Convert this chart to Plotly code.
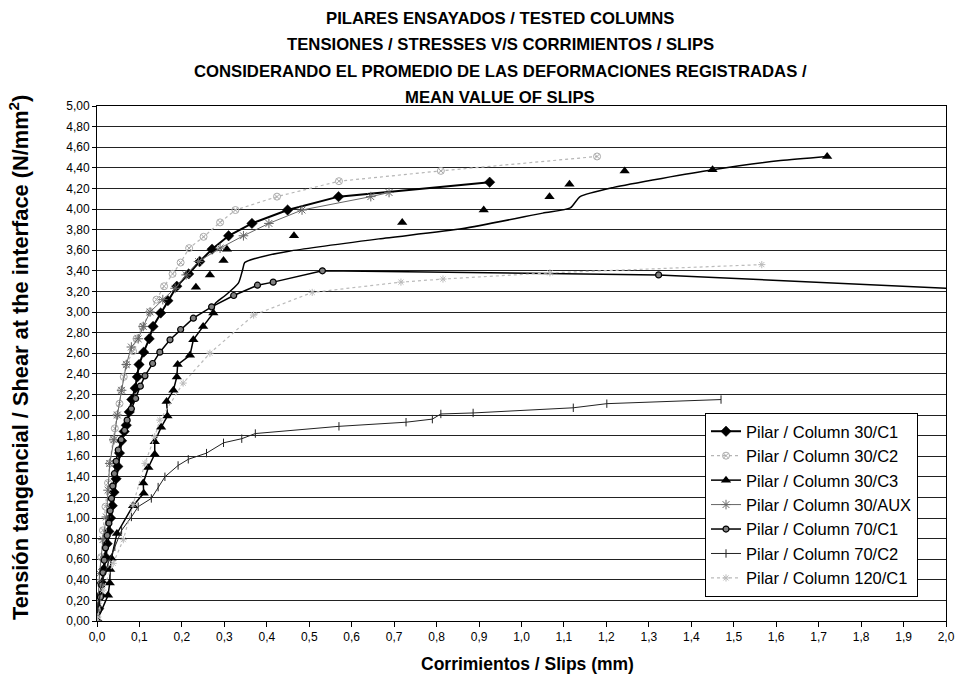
import plotly.graph_objects as go

# ---------------- data ----------------
c1_30_x = [0, 0.004, 0.008, 0.012, 0.016, 0.020, 0.024, 0.028, 0.032, 0.036, 0.040, 0.045, 0.049, 0.053,
           0.058, 0.064, 0.069, 0.076, 0.082, 0.090, 0.095, 0.099, 0.110, 0.123, 0.132, 0.150, 0.167,
           0.188, 0.216, 0.242, 0.271, 0.310, 0.365, 0.449, 0.569, 0.925]
c1_30_y = [0, 0.12, 0.25, 0.37, 0.50, 0.62, 0.75, 0.87, 1.00, 1.12, 1.25, 1.38, 1.50, 1.63,
           1.75, 1.84, 1.90, 2.03, 2.15, 2.26, 2.37, 2.49, 2.61, 2.74, 2.86, 2.99, 3.11,
           3.25, 3.37, 3.49, 3.61, 3.74, 3.86, 3.99, 4.12, 4.26]

c2_30_x = [0, 0.001, 0.005, 0.010, 0.014, 0.020, 0.026, 0.030, 0.038, 0.042, 0.047, 0.053, 0.057, 0.063,
           0.069, 0.085, 0.093, 0.107, 0.124, 0.140, 0.158, 0.178, 0.197, 0.217, 0.251, 0.290, 0.326,
           0.424, 0.570, 0.810, 1.178]
c2_30_y = [0, 0.10, 0.37, 0.62, 0.88, 1.11, 1.34, 1.53, 1.76, 1.87, 2.00, 2.11, 2.24, 2.37,
           2.49, 2.62, 2.74, 2.86, 3.00, 3.12, 3.25, 3.37, 3.48, 3.62, 3.73, 3.87, 3.99,
           4.12, 4.27, 4.37, 4.51]

c3_30_x = [0, 0.026, 0.030, 0.031, 0.034, 0.047, 0.085, 0.110, 0.109, 0.121, 0.136, 0.136, 0.151, 0.166,
           0.164, 0.180, 0.188, 0.190, 0.219, 0.227, 0.250, 0.274]
c3_30_y = [0, 0.25, 0.37, 0.50, 0.61, 0.85, 1.12, 1.24, 1.34, 1.49, 1.62, 1.74, 1.88, 1.99,
           2.13, 2.24, 2.37, 2.49, 2.58, 2.73, 2.86, 2.99]
c3_30_tail_x = [0.274, 0.278, 0.302, 0.333, 0.343, 0.348, 0.373, 0.452, 0.664, 0.862, 1.050, 1.115,
                1.138, 1.217, 1.450, 1.610, 1.720]
c3_30_tail_y = [2.99, 3.08, 3.16, 3.28, 3.41, 3.48, 3.52, 3.59, 3.71, 3.81, 3.96, 4.01,
                4.12, 4.21, 4.38, 4.47, 4.51]
c3_30_pts_x = [0.233, 0.266, 0.298, 0.306, 0.464, 0.719, 0.911, 1.066, 1.113, 1.243, 1.450, 1.720]
c3_30_pts_y = [3.24, 3.36, 3.50, 3.61, 3.74, 3.87, 3.99, 4.12, 4.24, 4.37, 4.38, 4.51]

aux_30_x = [0, 0.002, 0.006, 0.014, 0.022, 0.026, 0.030, 0.040, 0.048, 0.058, 0.069, 0.081, 0.097,
            0.109, 0.125, 0.155, 0.184, 0.210, 0.239, 0.290, 0.345, 0.405, 0.483, 0.645, 0.688]
aux_30_y = [0, 0.14, 0.46, 0.79, 1.01, 1.27, 1.53, 1.76, 2.00, 2.24, 2.49, 2.66, 2.74,
            2.86, 3.00, 3.12, 3.23, 3.36, 3.49, 3.62, 3.74, 3.86, 3.99, 4.12, 4.16]

c1_70_x = [0, 0.004, 0.008, 0.011, 0.014, 0.017, 0.020, 0.024, 0.028, 0.031, 0.034, 0.037, 0.041,
           0.045, 0.050, 0.057, 0.065, 0.071, 0.081, 0.091, 0.102, 0.113, 0.131, 0.148, 0.172,
           0.197, 0.227, 0.270, 0.322, 0.378, 0.415, 0.531, 1.323, 2.050]
c1_70_y = [0, 0.11, 0.23, 0.35, 0.47, 0.59, 0.71, 0.83, 0.95, 1.07, 1.19, 1.31, 1.43,
           1.55, 1.66, 1.76, 1.85, 1.95, 2.06, 2.16, 2.28, 2.38, 2.50, 2.61, 2.73,
           2.83, 2.94, 3.05, 3.16, 3.26, 3.29, 3.40, 3.36, 3.22]

c2_70_x = [0, 0.002, 0.014, 0.026, 0.042, 0.058, 0.081, 0.097, 0.128, 0.144, 0.160, 0.191, 0.215,
           0.258, 0.298, 0.341, 0.373, 0.570, 0.728, 0.790, 0.810, 0.886, 1.122, 1.201, 1.470]
c2_70_y = [0, 0.14, 0.40, 0.56, 0.72, 0.88, 1.01, 1.11, 1.19, 1.30, 1.40, 1.51, 1.57,
           1.63, 1.73, 1.77, 1.82, 1.89, 1.93, 1.96, 2.01, 2.02, 2.07, 2.11, 2.15]

c1_120_x = [0, 0.002, 0.014, 0.038, 0.062, 0.085, 0.113, 0.136, 0.148, 0.203, 0.266, 0.369, 0.507,
            0.716, 0.815, 1.067, 1.566]
c1_120_y = [0, 0.04, 0.30, 0.56, 0.79, 1.13, 1.53, 1.79, 1.95, 2.31, 2.60, 2.97, 3.19,
            3.29, 3.32, 3.38, 3.46]

names = ["Pilar / Column 30/C1", "Pilar / Column 30/C2", "Pilar / Column 30/C3",
         "Pilar / Column 30/AUX", "Pilar / Column 70/C1", "Pilar / Column 70/C2",
         "Pilar / Column 120/C1"]

title_lines = ["PILARES ENSAYADOS / TESTED COLUMNS",
               "TENSIONES / STRESSES V/S CORRIMIENTOS / SLIPS",
               "CONSIDERANDO EL PROMEDIO DE LAS DEFORMACIONES REGISTRADAS /",
               "MEAN VALUE OF SLIPS"]

# ---------------- figure ----------------
NARROW = "Liberation Sans Narrow, Arial Narrow, Liberation Sans, sans-serif"
SANS = "Liberation Sans, Arial, sans-serif"

fig = go.Figure()

fig.add_trace(go.Scatter(x=c1_30_x, y=c1_30_y, name=names[0], mode="lines+markers",
                         legendgroup="g1",
                         line=dict(color="black", width=2),
                         marker=dict(symbol="diamond", size=8, color="black",
                                     line=dict(color="black", width=0.5))))
fig.add_trace(go.Scatter(x=c2_30_x, y=c2_30_y, name=names[1], mode="lines+markers",
                         legendgroup="g2",
                         line=dict(color="#b5b5b5", width=1.2, dash="dot"),
                         marker=dict(symbol="circle-x-open", size=7, color="#aaaaaa",
                                     line=dict(width=1))))
fig.add_trace(go.Scatter(x=c3_30_x, y=c3_30_y, name=names[2], mode="lines+markers",
                         legendgroup="g3",
                         line=dict(color="black", width=1.5),
                         marker=dict(symbol="triangle-up", size=9, color="black")))
fig.add_trace(go.Scatter(x=c3_30_tail_x, y=c3_30_tail_y, mode="lines", showlegend=False,
                         legendgroup="g3", hoverinfo="skip",
                         line=dict(color="black", width=1.5, shape="spline", smoothing=0.6)))
fig.add_trace(go.Scatter(x=c3_30_pts_x, y=c3_30_pts_y, mode="markers", showlegend=False,
                         legendgroup="g3",
                         marker=dict(symbol="triangle-up", size=9, color="black")))
fig.add_trace(go.Scatter(x=aux_30_x, y=aux_30_y, name=names[3], mode="lines+markers",
                         legendgroup="g4",
                         line=dict(color="#666666", width=1),
                         marker=dict(symbol="asterisk-open", size=8, color="#666666",
                                     line=dict(width=1, color="#666666"))))
fig.add_trace(go.Scatter(x=c1_70_x, y=c1_70_y, name=names[4], mode="lines+markers",
                         legendgroup="g5",
                         line=dict(color="black", width=1.5),
                         marker=dict(symbol="circle", size=6, color="#808080",
                                     line=dict(color="black", width=1.2))))
fig.add_trace(go.Scatter(x=c2_70_x, y=c2_70_y, name=names[5], mode="lines+markers",
                         legendgroup="g6",
                         line=dict(color="#222222", width=1),
                         marker=dict(symbol="line-ns-open", size=6, color="#222222",
                                     line=dict(width=1, color="#222222"))))
fig.add_trace(go.Scatter(x=c1_120_x, y=c1_120_y, name=names[6], mode="lines+markers",
                         legendgroup="g7",
                         line=dict(color="#bbbbbb", width=1.2, dash="dot"),
                         marker=dict(symbol="asterisk-open", size=6, color="#bbbbbb",
                                     line=dict(width=1, color="#bbbbbb"))))

L, R, T, B = 97, 12, 106, 58
W, H = 958, 679
pw, ph = W - L - R, H - T - B

def py(ypx):
    return (H - B - ypx) / ph

def px(xpx):
    return (xpx - L) / pw

annotations = []
for line, ypix in zip(title_lines, [18, 45, 71, 97]):
    annotations.append(dict(text=line, xref="paper", yref="paper", x=px(500), y=py(ypix),
                            xanchor="center", yanchor="middle", showarrow=False,
                            font=dict(family=NARROW, size=16.7, color="black", weight="bold")))
annotations.append(dict(text="Tensión tangencial / Shear at the interface (N/mm<sup>2</sup>)",
                        xref="paper", yref="paper", x=px(19), y=py(358), textangle=-90,
                        xanchor="center", yanchor="middle", showarrow=False,
                        font=dict(family=SANS, size=21.8, color="black", weight="bold")))
annotations.append(dict(text="Corrimientos / Slips (mm)", xref="paper", yref="paper",
                        x=px(527), y=py(664), xanchor="center", yanchor="middle", showarrow=False,
                        font=dict(family=SANS, size=17.5, color="black", weight="bold")))

fig.update_layout(
    width=W, height=H,
    margin=dict(l=L, r=R, t=T, b=B, pad=0, autoexpand=False),
    paper_bgcolor="white", plot_bgcolor="white",
    separators=", ",
    showlegend=True,
    legend=dict(x=px(705), y=py(413), xanchor="left", yanchor="top",
                bgcolor="white", bordercolor="black", borderwidth=1,
                font=dict(family=SANS, size=16.5, color="black"),
                tracegroupgap=0, itemwidth=30),
    annotations=annotations,
)
fig.update_xaxes(range=[0, 2.0], dtick=0.1, tick0=0, tickformat=".1f",
                 showgrid=False, zeroline=False, automargin=False,
                 showline=True, linecolor="black", linewidth=1, mirror=True,
                 ticks="outside", ticklen=5, tickcolor="black",
                 tickfont=dict(family=NARROW, size=12, color="black"))
fig.update_yaxes(range=[0, 5.0], dtick=0.2, tick0=0, tickformat=".2f",
                 showgrid=True, gridcolor="#222222", gridwidth=1.2, zeroline=False,
                 automargin=False,
                 showline=True, linecolor="black", linewidth=1, mirror=True,
                 ticks="outside", ticklen=4, tickcolor="black",
                 tickfont=dict(family=NARROW, size=12, color="black"))

fig.write_html("out.html")
